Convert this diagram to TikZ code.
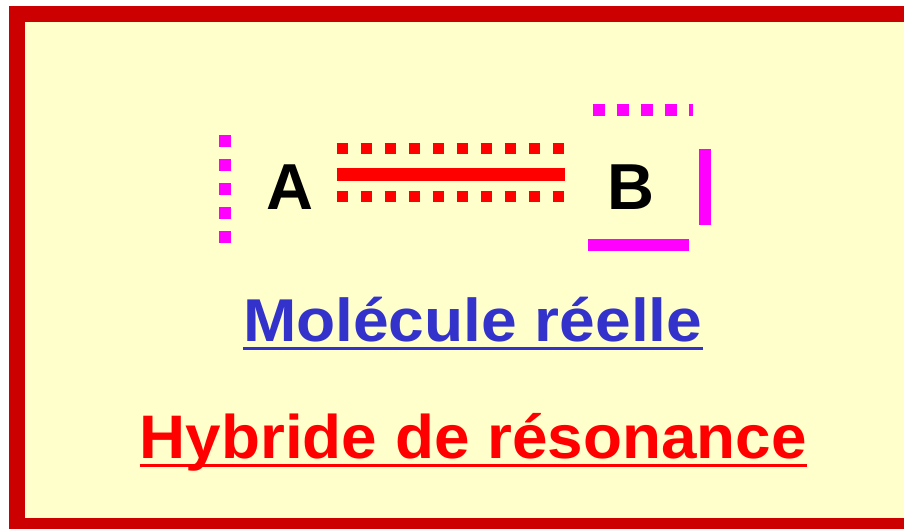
\documentclass[tikz,border=0pt]{standalone}
\usepackage{fontspec}
\setmainfont{Liberation Sans}
\definecolor{frame}{HTML}{CC0000}
\definecolor{paper}{HTML}{FFFFCC}
\definecolor{bondred}{HTML}{FF0000}
\definecolor{mag}{HTML}{FF00FF}
\definecolor{molblue}{HTML}{3333CC}
\begin{document}
\begin{tikzpicture}[x=1pt,y=-1pt,
  atom/.style={inner sep=0pt, anchor=base, font=\fontsize{65}{65}\selectfont\bfseries, text=black},
  title/.style={inner sep=0pt, anchor=base},
  dotbond/.style={draw=bondred, line width=11.6pt, dash pattern=on 11.7pt off 12.3pt},
  solidbond/.style={draw=bondred, line width=13pt},
  magdot/.style={draw=mag, line width=12pt, dash pattern=on 12pt off 12pt},
  magline/.style={draw=mag, line width=12pt}]
\useasboundingbox (0,0) rectangle (904,529);
\clip (0,0) rectangle (904,529);
% frame
\fill[frame] (9,6) rectangle (930,545);
\fill[paper] (25,22) rectangle (930,518);
% atoms
\node[atom] (A) at (289.8,209.3) {A};
\node[atom] (B) at (631,209.3) {B};
% bond between A and B
\draw[dotbond] (336.7,148.6) -- (564.5,148.6);
\draw[solidbond] (336.7,174.2) -- (565,174.2);
\draw[dotbond] (336.7,196.7) -- (564.5,196.7);
% magenta brackets
\draw[magdot] (225,135) -- (225,244);
\draw[magdot] (592.7,110) -- (693.3,110);
\draw[magline] (705,149) -- (705,225);
\draw[magline] (588.3,245) -- (689,245);
% titles
\node[title, font=\fontsize{60.5}{60.5}\selectfont\bfseries, text=molblue] (mol) at (472.7,341) {\scalebox{1.059}[1]{Molécule réelle}};
\draw[molblue, line width=2.8pt] ([yshift=-7.7pt]mol.base west) -- ([yshift=-7.7pt]mol.base east);
\node[title, font=\fontsize{61.5}{61.5}\selectfont\bfseries, text=bondred] (hyb) at (473.2,458.5) {\scalebox{1.038}[1]{Hybride de résonance}};
\draw[bondred, line width=3pt] ([yshift=-7pt]hyb.base west) -- ([yshift=-7pt]hyb.base east);
\end{tikzpicture}
\end{document}
